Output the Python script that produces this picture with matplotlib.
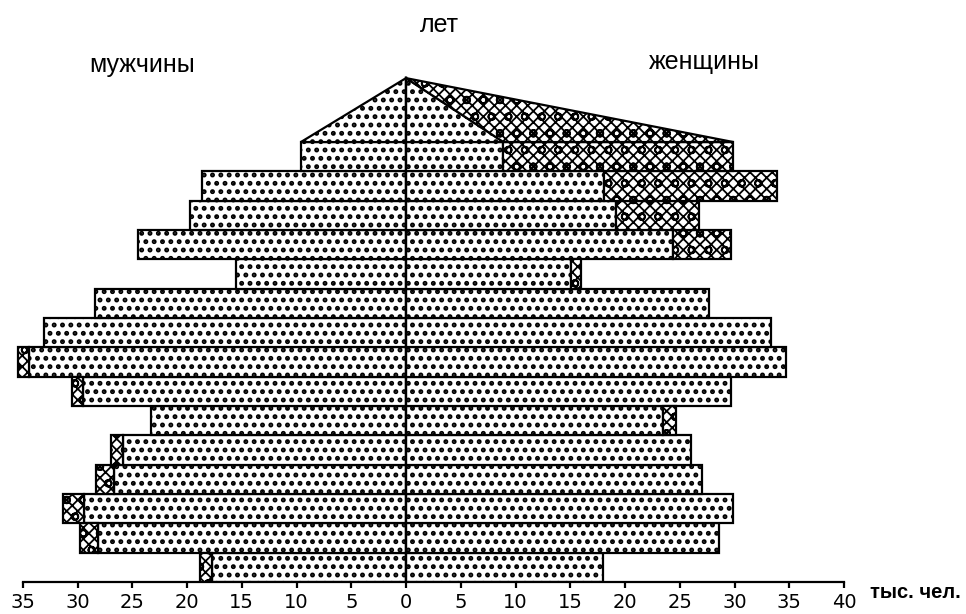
import matplotlib
matplotlib.use('Agg')
import matplotlib.pyplot as plt
import numpy as np

# ---- data (thousand persons), youngest group at the bottom, open-ended group on top ----
age_groups = ['0-4', '5-9', '10-14', '15-19', '20-24', '25-29', '30-34', '35-39',
              '40-44', '45-49', '50-54', '55-59', '60-64', '65-69', '70+']
male_total = [18.8, 29.8, 31.3, 28.3, 26.9, 23.3, 30.5, 35.4, 33.1, 28.4, 15.5, 24.5, 19.7, 18.6, 9.6]
male_excess = [1.1, 1.7, 1.9, 1.6, 1.1, 0.0, 1.0, 1.0, 0.0, 0.0, 0.0, 0.0, 0.0, 0.0, 0.0]
female_total = [18.0, 28.6, 29.9, 27.0, 26.0, 24.7, 29.7, 34.7, 33.3, 27.7, 16.0, 29.7, 26.8, 33.9, 29.9]
female_excess = [0.0, 0.0, 0.0, 0.0, 0.0, 1.2, 0.0, 0.0, 0.0, 0.0, 0.9, 5.3, 7.6, 15.8, 21.0]
tick_values = [-35, -30, -25, -20, -15, -10, -5, 0, 5, 10, 15, 20, 25, 30, 35, 40]
tick_labels = ['35', '30', '25', '20', '15', '10', '5', '0', '5', '10', '15', '20', '25', '30', '35', '40']

# ---- style ----
DOT, DOT_LW = '..', 2.3
CROSS, CROSS_LW = 'xxxo', 1.3
LW = 1.6
W, H = 966, 614
px_per_unit = 10.95
zero_px = 406
axis_px = 582
bar_px = 29.33
apex_units = 17.18

fig = plt.figure(figsize=(W / 100, H / 100), dpi=100)
ax = fig.add_axes([0, (H - axis_px) / H, 1, axis_px / H])
ax.set_xlim(-zero_px / px_per_unit, (W - zero_px) / px_per_unit)
ax.set_ylim(0, axis_px / bar_px)

n = len(age_groups)
y = np.arange(n) + 0.5
mt = np.array(male_total)
me = np.array(male_excess)
ft = np.array(female_total)
fe = np.array(female_excess)
mc = mt - me
fc = ft - fe
base = n

kw = dict(height=1.0, color='white', edgecolor='black', linewidth=LW, zorder=2)
pkw = dict(facecolor='white', edgecolor='black', linewidth=LW, zorder=2)


def set_hlw(artists, lw):
    for a in artists:
        if hasattr(a, 'set_hatch_linewidth'):
            a.set_hatch_linewidth(lw)


# dotted (common) parts
with plt.rc_context({'hatch.linewidth': DOT_LW}):
    b1 = ax.barh(y, -mc, hatch=DOT, **kw)
    b2 = ax.barh(y, fc, hatch=DOT, **kw)
    p1 = ax.fill([0, -mc[-1], 0], [base, base, apex_units], hatch=DOT, **pkw)
    p2 = ax.fill([0, fc[-1], 0], [base, base, apex_units], hatch=DOT, **pkw)
set_hlw(list(b1) + list(b2) + p1 + p2, DOT_LW)

# cross-hatched surplus parts
mm = me > 0
fm = fe > 0
with plt.rc_context({'hatch.linewidth': CROSS_LW}):
    b3 = ax.barh(y[mm], -me[mm], left=-mc[mm], hatch=CROSS, **kw)
    b4 = ax.barh(y[fm], fe[fm], left=fc[fm], hatch=CROSS, **kw)
    p3 = ax.fill([fc[-1], ft[-1], 0], [base, base, apex_units], hatch=CROSS, **pkw)
set_hlw(list(b3) + list(b4) + p3, CROSS_LW)

# central vertical line
ax.plot([0, 0], [0, apex_units], color='black', lw=LW, zorder=4)

# axes styling
for s in ['left', 'right', 'top']:
    ax.spines[s].set_visible(False)
ax.spines['bottom'].set_bounds(tick_values[0], tick_values[-1])
ax.spines['bottom'].set_linewidth(LW)
ax.set_yticks([])
ax.set_xticks(tick_values)
ax.set_xticklabels(tick_labels, fontsize=14, family='DejaVu Sans')
ax.tick_params(axis='x', direction='out', length=4.5, width=LW, pad=3.5)
ax.set_facecolor('none')

# texts
fig.text(439 / W, 1 - 32 / H, 'лет', ha='center', va='baseline', fontsize=18, family='Liberation Sans')
fig.text(142.5 / W, 1 - 72 / H, 'мужчины', ha='center', va='baseline', fontsize=18, family='Liberation Sans')
fig.text(704 / W, 1 - 69 / H, 'женщины', ha='center', va='baseline', fontsize=18, family='Liberation Sans')
fig.text(870 / W, 1 - 598 / H, 'тыс. чел.', ha='left', va='baseline', fontsize=14.5, fontweight='bold', family='Liberation Sans')

fig.savefig('out.png', dpi=100)
